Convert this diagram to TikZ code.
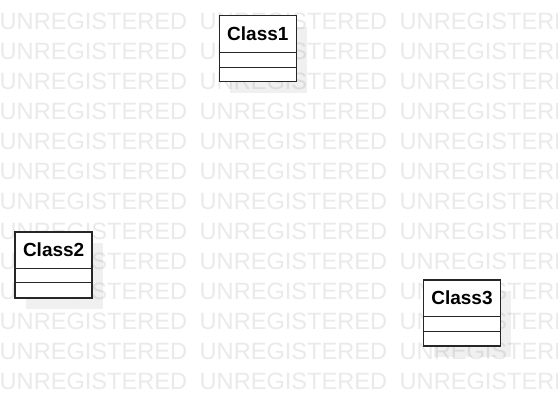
\documentclass[tikz,border=0pt]{standalone}
\usepackage{fontspec}
\setmainfont{Liberation Sans}
\usetikzlibrary{shadows}
\definecolor{wmgray}{HTML}{EAEAEA}
\definecolor{edge}{HTML}{262626}
\begin{document}
\begin{tikzpicture}[x=1pt,y=-1pt,
  wm/.style={anchor=base west, inner sep=0pt, text=wmgray, font=\fontsize{23.6}{23.6}\selectfont},
  classbox/.style={draw=edge, line width=1.7pt, fill=white, minimum width=77pt, minimum height=66pt, inner sep=0pt, anchor=north west,
    drop shadow={shadow xshift=11pt, shadow yshift=-11pt, fill=black, opacity=0.06}},
  classname/.style={inner sep=0pt, font=\bfseries\fontsize{19}{19}\selectfont},
  divider/.style={draw=edge, line width=1.3pt}]
\useasboundingbox (0,0) rectangle (558,405);
\fill[white] (0,0) rectangle (558,405);
\clip (0,0) rectangle (558,405);
% watermark
\foreach \r in {0,...,12}{
  \foreach \c in {0,1,2}{
    \node[wm] (wm-\r-\c) at (\c*200-0.5, 29.3+\r*30) {UNREGISTERED};
  }
}
% Class1
\node[classbox] (c1) at (218.5,14.7) {};
\node[classname] (c1t) at ([yshift=-18.8pt]c1.north) {Class1};
\draw[divider] ([yshift=-37.5pt]c1.north west) -- ([yshift=-37.5pt]c1.north east);
\draw[divider] ([yshift=-52.5pt]c1.north west) -- ([yshift=-52.5pt]c1.north east);
% Class2
\node[classbox] (c2) at (14.3,230.8) {};
\node[classname] (c2t) at ([yshift=-18.8pt]c2.north) {Class2};
\draw[divider] ([yshift=-37.5pt]c2.north west) -- ([yshift=-37.5pt]c2.north east);
\draw[divider] ([yshift=-52pt]c2.north west) -- ([yshift=-52pt]c2.north east);
% Class3
\node[classbox] (c3) at (422.6,279) {};
\node[classname] (c3t) at ([yshift=-18.8pt]c3.north) {Class3};
\draw[divider] ([yshift=-37.3pt]c3.north west) -- ([yshift=-37.3pt]c3.north east);
\draw[divider] ([yshift=-52.3pt]c3.north west) -- ([yshift=-52.3pt]c3.north east);
\end{tikzpicture}
\end{document}
